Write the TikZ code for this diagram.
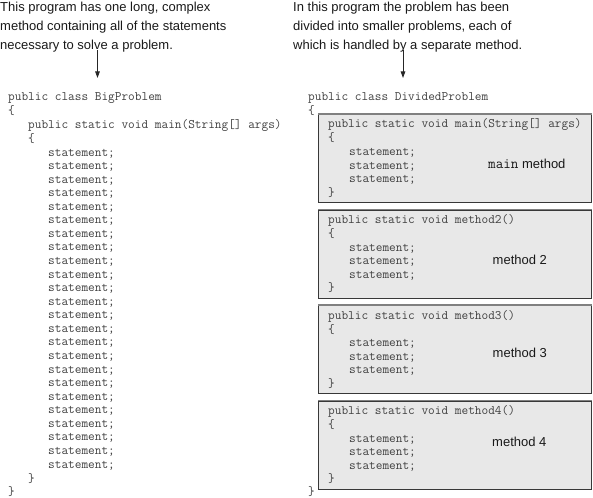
\documentclass[tikz,border=0pt]{standalone}
\usepackage{fontspec}
\setmainfont{Liberation Sans}
\usetikzlibrary{arrows.meta}
\tikzset{
  codeline/.style={anchor=base west, inner sep=0pt, font=\ttfamily\fontsize{12.95}{13.6}\selectfont, text=black!75},
  caption/.style={anchor=base west, inner sep=0pt, font=\fontsize{13}{18.7}\selectfont, text=black!90},
  mbox/.style={anchor=north west, draw=black!78, line width=1.2pt, fill=black!9, inner sep=0pt, minimum width=273pt, minimum height=88pt},
  pointer/.style={draw=black!85, line width=0.9pt, -{Triangle[length=6.5pt,width=4.5pt]}},
  boxlabel/.style={anchor=base west, inner sep=0pt, font=\fontsize{13}{15}\selectfont, text=black!90}
}
\begin{document}
\begin{tikzpicture}[x=1pt,y=-1pt]
\useasboundingbox (0,0) rectangle (593,497);
% captions
\node[caption] (tl1) at (0,12) {This program has one long, complex};
\node[caption] (tl2) at (0,30.7) {method containing all of the statements};
\node[caption] (tl3) at (0,49.4) {necessary to solve a problem.};
\node[caption] (tr1) at (293,12) {In this program the problem has been};
\node[caption] (tr2) at (293,30.7) {divided into smaller problems, each of};
\node[caption] (tr3) at (293,49.4) {which is handled by a separate method.};
% arrows
\coordinate (aL1) at (97.5,50);
\coordinate (aL2) at (97.5,78);
\coordinate (aR1) at (403,50);
\coordinate (aR2) at (403,78);
\draw[pointer] (aL1) -- (aL2);
\draw[pointer] (aR1) -- (aR2);
% left program
\node[codeline] (L1) at (8,101) {public class BigProblem};
\node[codeline] (L2) at (8,115) {\{};
\node[codeline] (L3) at (28,129) {public static void main(String[] args)};
\node[codeline] (L4) at (28,142.5) {\{};
\foreach \i in {0,...,23}
  \node[codeline] (Ls\i) at (48,{156+\i*13.57}) {statement;};
\node[codeline] (L5) at (28,482) {\}};
\node[codeline] (L6) at (8,495.5) {\}};
% right program
\node[codeline] (R1) at (308,101) {public class DividedProblem};
\node[codeline] (R2) at (308,114.5) {\{};
\node[codeline] (R3) at (308,495.5) {\}};
% method boxes
\foreach \k/\t/\hdr in {1/114/{main(String[] args)}, 2/209.5/{method2()}, 3/305/{method3()}, 4/400.5/{method4()}} {
  \node[mbox] (box\k) at (318,\t) {};
  \draw[black!50, line width=1.2pt] (box\k.north west) -- (box\k.north east);
  \node[codeline] (h\k) at (328,{\t+14}) {public static void \hdr};
  \node[codeline] (o\k) at (328,{\t+28}) {\{};
  \node[codeline] (sa\k) at (349,{\t+41.5}) {statement;};
  \node[codeline] (sb\k) at (349,{\t+55}) {statement;};
  \node[codeline] (sc\k) at (349,{\t+68.5}) {statement;};
  \node[codeline] (c\k) at (328,{\t+82}) {\}};
}
% labels
\node[boxlabel] (lab1) at (488,168) {{\ttfamily\fontsize{14.7}{15}\selectfont main} method};
\node[boxlabel] (lab2) at (492.5,264) {method 2};
\node[boxlabel] (lab3) at (492.5,357) {method 3};
\node[boxlabel] (lab4) at (492,446.5) {method 4};
\end{tikzpicture}
\end{document}
